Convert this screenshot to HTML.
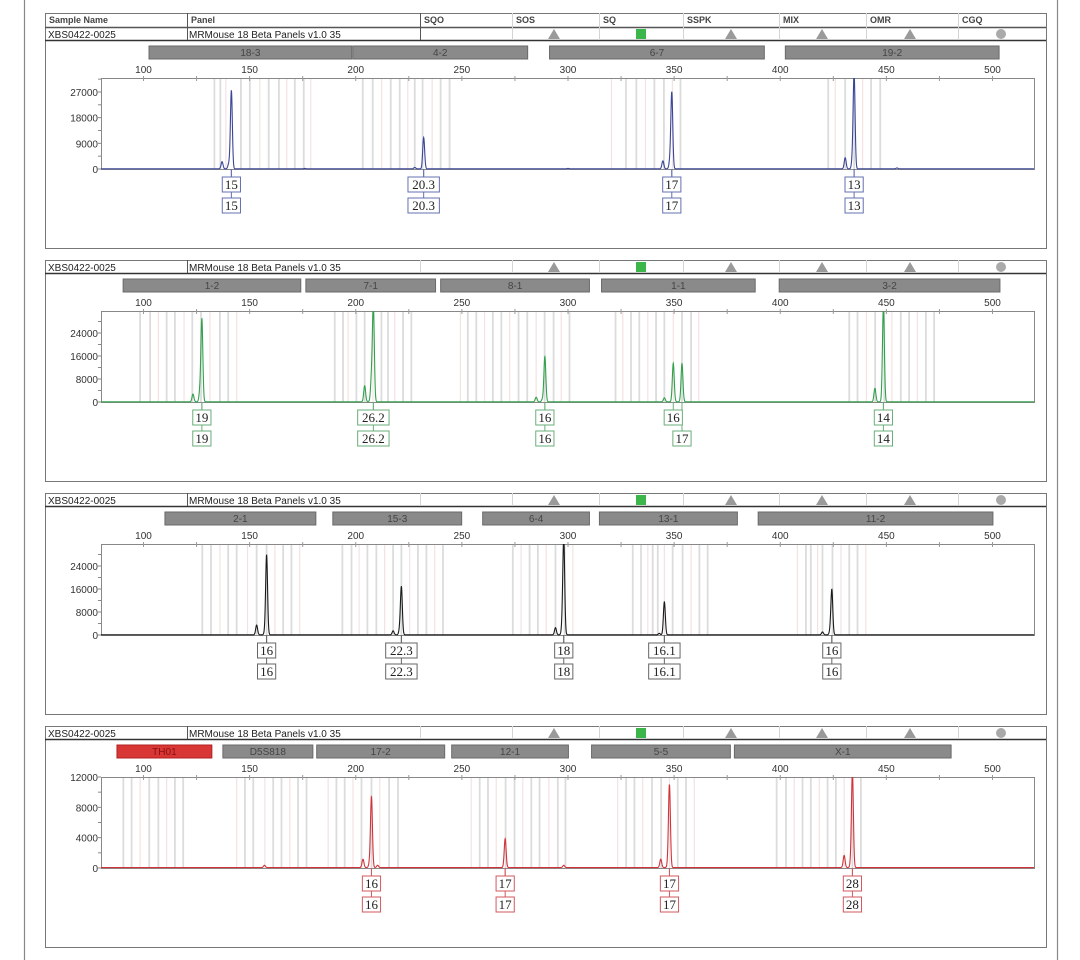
<!DOCTYPE html>
<html><head><meta charset="utf-8"><style>
html,body{margin:0;padding:0;background:#fff;}
svg{display:block;font-family:"Liberation Sans",Arial,sans-serif;}
</style></head><body>
<svg id="chart" width="1080" height="960" viewBox="0 0 1080 960" xmlns="http://www.w3.org/2000/svg"></svg>
<script>
// ---------- data ----------
const xTickLabels = [100,150,200,250,300,350,400,450,500];
const sampleName = 'XBS0422-0025';
const panelName = 'MRMouse 18 Beta  Panels  v1.0  35';
const headerCols = ['Sample Name','Panel','SQO','SOS','SQ','SSPK','MIX','OMR','CGQ'];

const yMax = [31900, 31650, 31650, 12000];
const yTicks1 = [0,9000,18000,27000];
const yTicks2 = [0,8000,16000,24000];
const yTicks3 = [0,8000,16000,24000];
const yTicks4 = [0,4000,8000,12000];

const markers1 = ['18-3','4-2','6-7','19-2'];
const markerStart1 = [102.6,198.6,291.3,402.4];
const markerEnd1 = [198.1,281,392.5,503.1];
const markers2 = ['1-2','7-1','8-1','1-1','3-2'];
const markerStart2 = [90.4,176.5,240,315.8,399.5];
const markerEnd2 = [174.1,237.6,310.1,388.2,503.5];
const markers3 = ['2-1','15-3','6-4','13-1','11-2'];
const markerStart3 = [110.1,189.2,259.8,314.8,389.6];
const markerEnd3 = [181.2,249.9,310.1,379.8,500.2];
const markers4 = ['TH01','D5S818','17-2','12-1','5-5','X-1'];
const markerStart4 = [87.5,137.4,181.6,245.2,311.1,378.4];
const markerEnd4 = [132.2,179.8,241.9,300.2,376.5,480.5];

const peakBp1 = [137,140.2,141.4,227.8,232,344.7,348,348.9,430.6,434,434.8,176,300,455];
const peakH1 = [2500,1800,27400,500,11000,2800,2500,26700,3900,2800,33000,150,150,300];
const peakBp2 = [123.3,126.6,127.5,204.2,207.4,208.3,285,288,289.1,345.4,349.6,353.7,444.6,448.6];
const peakH2 = [2700,3500,28500,5600,7600,33000,1600,900,15700,1400,13400,13200,4700,33000];
const peakBp3 = [153.3,157.2,158,217.6,220.7,221.5,294.1,297.3,298,343,345.4,419.9,423.5,424.3];
const peakH3 = [3400,800,27700,1400,1600,16500,2500,2700,33000,500,11500,1000,1200,15600];
const peakBp4 = [157,203.4,206.5,207.4,210.3,270.4,298,343.7,347.2,347.8,430.1,433.3,434];
const peakH4 = [300,1100,500,9300,300,3800,300,1100,600,10700,1600,500,12500];

const alleleBp1 = [141.4,232,348.9,434.8];
const alleleTop1 = ['15','20.3','17','13'];
const alleleBotBp1 = [141.4,232,348.9,434.8];
const alleleBot1 = ['15','20.3','17','13'];
const alleleBp2 = [127.5,208.3,289.1,349.6,448.6];
const alleleTop2 = ['19','26.2','16','16','14'];
const alleleBotBp2 = [127.5,208.3,289.1,353.7,448.6];
const alleleBot2 = ['19','26.2','16','17','14'];
const alleleBp3 = [158,221.5,298,345.4,424.3];
const alleleTop3 = ['16','22.3','18','16.1','16'];
const alleleBotBp3 = [158,221.5,298,345.4,424.3];
const alleleBot3 = ['16','22.3','18','16.1','16'];
const alleleBp4 = [207.4,270.4,347.8,434];
const alleleTop4 = ['16','17','17','28'];
const alleleBotBp4 = [207.4,270.4,347.8,434];
const alleleBot4 = ['16','17','17','28'];

const bins1 = [133.4,136.2,138.8,145.9,150.1,154.8,159,163.8,167.5,171.3,175.5,178.8,203.3,208,212.2,216.5,220.7,224.5,227.8,231.5,236,240,244.2,320.5,327.3,332.2,336.5,340.7,345.2,349.2,353,422.6,425.9,430.6,434.8,438.8,442.8,447.1];
const bins2 = [98.4,103.1,107,110.9,114.8,119.1,123,127.1,131.3,136,139.9,143.9,190.1,194,196.4,200.3,204.2,208.1,212.1,215.2,218.4,222.3,226.2,249.3,252.8,256.8,260.7,264.6,268.6,272.5,276.7,280.8,285,289,293.2,296.8,300.7,322.4,325.8,329.7,333.6,337.6,341.5,345.4,349.6,353.7,358,361.6,432.5,436.4,440.6,444.7,449,452.6,456.8,460.7,464.6,468.6,472.5];
const bins3 = [127.7,131.8,136,139.9,143.9,149,153.3,158,161.9,165.8,169.7,173.6,193.7,198,201.6,205.5,209.7,213.6,217.6,221.5,225.4,229.3,233.3,237.2,241.1,274,277.9,281.9,285.8,289.7,294.1,298.4,302.3,330.5,334.4,337.6,339.9,342.3,345.4,349.3,354,358,361.9,365.8,408.1,412.1,414.4,417.6,419.9,424.6,428.6,432.5,436.4,440.3];
const bins4 = [90.5,94.4,98.4,102.7,107,110.9,114.8,118.7,143.9,147.8,151.7,157.2,161.1,165,168.9,172.8,176.8,187,190.9,194.8,198.7,202.7,207.4,211.3,215.7,219.9,254.4,258.4,262.3,266.2,270.6,274.8,278.7,282.7,286.6,291,295.2,298.8,323.4,327.4,331.3,335.2,339.6,343.9,347.8,351.7,355.6,359.5,398.3,402.7,406.6,410.5,414.4,418.4,422.3,426.2,430.1,434,438];

// ---------- drawing ----------
const NS='http://www.w3.org/2000/svg';
const svg=document.getElementById('chart');
function mk(tag,attrs,parent){const e=document.createElementNS(NS,tag);for(const k in attrs)e.setAttribute(k,attrs[k]);(parent||svg).appendChild(e);return e;}
function xs(bp){return 143.5+(bp-100)*2.1225;}
const PL=101, PR=1034;
const colors=['#3a4596','#32a04c','#1a1a1a','#d0343a'];
const boxColors=['#6470b0','#6aae78','#666666','#d05a5e'];
const panels=[
 {markers:markers1,ms:markerStart1,me:markerEnd1,pb:peakBp1,ph:peakH1,ab:alleleBp1,at:alleleTop1,bb:alleleBotBp1,bt:alleleBot1,bins:bins1,yt:yTicks1},
 {markers:markers2,ms:markerStart2,me:markerEnd2,pb:peakBp2,ph:peakH2,ab:alleleBp2,at:alleleTop2,bb:alleleBotBp2,bt:alleleBot2,bins:bins2,yt:yTicks2},
 {markers:markers3,ms:markerStart3,me:markerEnd3,pb:peakBp3,ph:peakH3,ab:alleleBp3,at:alleleTop3,bb:alleleBotBp3,bt:alleleBot3,bins:bins3,yt:yTicks3},
 {markers:markers4,ms:markerStart4,me:markerEnd4,pb:peakBp4,ph:peakH4,ab:alleleBp4,at:alleleTop4,bb:alleleBotBp4,bt:alleleBot4,bins:bins4,yt:yTicks4}
];

let l=mk('line',{x1:24.5,y1:0,x2:24.5,y2:960,stroke:'#888','stroke-width':1.2});


l=mk('line',{x1:1057.5,y1:0,x2:1057.5,y2:960,stroke:'#888','stroke-width':1.2});



const colX=[45,187,420,512,599,683,779,866,958,1046];
const iconX=[null,null,null,554,641,731,822,910,1001];

panels.forEach((p,i)=>{
 const off=i*233;
 const g=mk('g',{});
 
 
 const top=i===0?13:27+off;
 const box=mk('rect',{x:45.5,y:top+0.5,width:1001,height:248+off-top,fill:'#fff',stroke:'#777','stroke-width':1},g);
 
 
 if(i===0){
  const hr=mk('line',{x1:45,y1:27.5,x2:1046,y2:27.5,stroke:'#555','stroke-width':1.5},g);
  
  
  headerCols.forEach((c,k)=>{
   const t=mk('text',{x:colX[k]+4,y:23,'font-size':9,'font-weight':'bold',fill:'#444'},g);
   t.textContent=c;
   
   
  });
 }
 const ry=27+off;
 const rl=mk('line',{x1:45,y1:ry+13.5,x2:1046,y2:ry+13.5,stroke:'#333','stroke-width':1.5},g);
 
 
 for(let k=1;k<9;k++){
  const dark = (i===0 && k<3) || (i>0 && k===1);
  const cl=mk('line',{x1:colX[k]+0.5,y1:(i===0?13:ry),x2:colX[k]+0.5,y2:ry+13,stroke:dark?'#555':'#d4d4d4','stroke-width':1},g);
  
  
 }
 let t=mk('text',{x:48,y:ry+11,'font-size':10,fill:'#222'},g);t.textContent=sampleName;
 
 
 t=mk('text',{x:189,y:ry+11,'font-size':10,fill:'#222'},g);t.textContent=panelName;
 
 
 const cy=ry+7;
 [3,5,6,7].forEach(k=>{
  const tri=mk('polygon',{points:`${iconX[k]-6},${cy+5} ${iconX[k]+6},${cy+5} ${iconX[k]},${cy-5}`,fill:'#9a9a9a'},g);
  
  
 });
 const sq=mk('rect',{x:iconX[4]-5,y:cy-5,width:10,height:10,fill:'#3cb54a'},g);
 
 
 const ci=mk('circle',{cx:iconX[8],cy:cy,r:5,fill:'#aaa'},g);
 
 

 p.markers.forEach((m,k)=>{
  const x1=xs(p.ms[k]),x2=xs(p.me[k]);
  const red=(m==='TH01');
  const r=mk('rect',{x:x1,y:46+off,width:x2-x1,height:13,fill:red?'#d93636':'#8a8a8a',stroke:red?'#b02020':'#6a6a6a','stroke-width':1},g);
  
  
  const mt=mk('text',{x:(x1+x2)/2,y:56+off,'font-size':10,'text-anchor':'middle',fill:red?'#8a1010':'#444'},g);
  mt.textContent=m;
  
  
 });

 const pt=78+off, pb=169+off, H=pb-pt;
 const ys=v=>pb-v/yMax[i]*H;
 const clipId='clip'+i;
 const cp=mk('clipPath',{id:clipId},g);
 mk('rect',{x:PL,y:pt,width:PR-PL,height:H+1},cp);
 p.bins.forEach((b,k)=>{
  const pink=(k%3===2);
  const bl=mk('line',{x1:xs(b),y1:pt,x2:xs(b),y2:pb,stroke:pink?'#f5e2e2':'#dcdcdc','stroke-width':pink?1.2:1.8},g);
  
  
 });
 const frame=mk('rect',{x:PL+0.5,y:pt+0.5,width:PR-PL,height:H,fill:'none',stroke:'#888','stroke-width':1},g);
 
 
 xTickLabels.forEach(v=>{
  const xt=mk('text',{x:xs(v),y:73+off,'font-size':10,'text-anchor':'middle',fill:'#333'},g);
  xt.textContent=v;
  
  
 });
 for(let v=75;v<=525;v+=25){
  const x=xs(v); if(x<PL||x>PR)continue;
  const tk=mk('line',{x1:x,y1:pt-2,x2:x,y2:pt+3,stroke:'#999','stroke-width':1},g);
  
  
 }
 const step=p.yt[1]-p.yt[0];
 for(let v=0;v<=yMax[i];v+=step/2){
  const tk=mk('line',{x1:PL-3,y1:ys(v),x2:PL,y2:ys(v),stroke:'#888','stroke-width':1},g);
  
  
 }
 p.yt.forEach(v=>{
  const yt=mk('text',{x:PL-3,y:ys(v)+4,'font-size':10,'text-anchor':'end',fill:'#333'},g);
  yt.textContent=v;
  
  
 });
 let d='';
 const sig=0.45;
 for(let bp=80;bp<=540;bp+=0.08){
  let v=60;
  for(let k=0;k<p.pb.length;k++){const dx=bp-p.pb[k]; if(Math.abs(dx)<3) v+=p.ph[k]*Math.exp(-dx*dx/(2*sig*sig));}
  const x=xs(bp); if(x<PL||x>PR)continue;
  d+=(d?'L':'M')+x.toFixed(2)+','+ys(v).toFixed(2);
 }
 const tr=mk('path',{d:d,fill:'none',stroke:colors[i],'stroke-width':1.1,'clip-path':`url(#${clipId})`},g);
 
 
 function lbl(bp,txt,y,name){
  const x=xs(bp), w=txt.length*6.6+5;
  const r=mk('rect',{x:x-w/2,y:y,width:w,height:15,fill:'#fff',stroke:boxColors[i],'stroke-width':1},g);
  
  
  const tt=mk('text',{x:x,y:y+12,'font-size':13,'text-anchor':'middle',fill:'#222','font-family':'"Liberation Serif",serif'},g);
  tt.textContent=txt;
  
  
 }
 p.ab.forEach((b,k)=>{
  const c1=mk('line',{x1:xs(b),y1:pb,x2:xs(b),y2:pb+8,stroke:boxColors[i],'stroke-width':1},g);
  
  
  const c2=mk('line',{x1:xs(p.bb[k]),y1:pb,x2:xs(p.bb[k]),y2:pb+29,stroke:boxColors[i],'stroke-width':1},g);
  
  
 });
 p.ab.forEach((b,k)=>{
  lbl(b,p.at[k],pb+8,'allele-call');
  lbl(p.bb[k],p.bt[k],pb+29,'allele-call-edited');
 });
});
</script>
</body></html>
